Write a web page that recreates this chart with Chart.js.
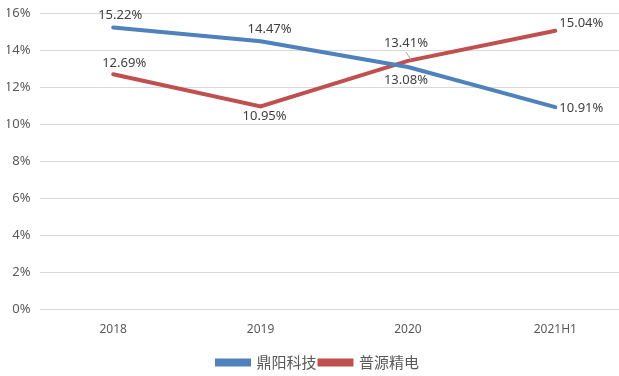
<!DOCTYPE html>
<html>
<head>
<meta charset="utf-8">
<script src="https://cdn.jsdelivr.net/npm/chart.js"></script>
<style>
  html, body { margin: 0; padding: 0; background: #fff; overflow: hidden; }
  #wrap { width: 630px; height: 376px; }
</style>
</head>
<body>
<div id="wrap"><canvas id="lineChart" width="630" height="376"></canvas></div>
<script>
// chart values
var years = ['2018', '2019', '2020', '2021H1'];
var dingyang = [15.22, 14.47, 13.08, 10.91];
var rigol = [12.69, 10.95, 13.41, 15.04];
var yTicks = [0, 2, 4, 6, 8, 10, 12, 14, 16];

// where each value label sits relative to its point (dx, dy)
var labelPlace = {
    0: [[7, -12], [9, -12], [-2, 13], [26, 1]],
    1: [[11, -11], [4, 9.5], [-2, -18], [26, -7]]
};

var valueLabels = {
    id: 'valueLabels',
    afterDatasetsDraw: function(chart) {
        var ctx = chart.ctx;
        ctx.save();
        ctx.font = '13px "Noto Sans", "Noto Sans CJK SC", sans-serif';
        ctx.fillStyle = '#404040';
        ctx.textAlign = 'center';
        ctx.textBaseline = 'middle';
        chart.data.datasets.forEach(function(ds, i) {
            var meta = chart.getDatasetMeta(i);
            meta.data.forEach(function(pt, j) {
                var off = labelPlace[i][j];
                var x = pt.x + off[0], y = pt.y + off[1];
                ctx.fillText(ds.data[j].toFixed(2) + '%', x, y);
                // small leader line for the label pushed away from its point
                if (i === 1 && j === 2) {
                    ctx.strokeStyle = '#a6a6a6';
                    ctx.lineWidth = 1;
                    ctx.beginPath();
                    ctx.moveTo(pt.x - 2, pt.y - 9);
                    ctx.lineTo(pt.x + 3, pt.y - 1);
                    ctx.stroke();
                }
            });
        });
        ctx.restore();
    }
};

document.addEventListener('DOMContentLoaded', function() {
    var ctx = document.getElementById('lineChart').getContext('2d');

    var data = {
        labels: years,
        datasets: [{
            label: '鼎阳科技',
            data: dingyang,
            borderColor: '#4F81BD',
            backgroundColor: '#4F81BD',
            borderWidth: 4,
            borderCapStyle: 'round',
            pointRadius: 0,
            tension: 0
        },
        {
            label: '普源精电',
            data: rigol,
            borderColor: '#C0504D',
            backgroundColor: '#C0504D',
            borderWidth: 4,
            borderCapStyle: 'round',
            pointRadius: 0,
            tension: 0
        }]
    };

    var options = {
        responsive: false,
        animation: false,
        layout: { padding: { top: 13, right: 1, left: 7, bottom: -4 } },
        plugins: {
            tooltip: { enabled: false },
            legend: {
                position: 'bottom',
                labels: {
                    boxWidth: 32,
                    boxHeight: 4,
                    padding: 3,
                    color: '#595959',
                    font: { size: 15, family: '"Noto Sans CJK SC", "Noto Sans", sans-serif' }
                }
            }
        },
        scales: {
            x: {
                offset: true,
                grid: { display: false, drawTicks: false },
                border: { display: false },
                ticks: {
                    color: '#595959',
                    padding: 13,
                    font: { size: 12, family: '"Noto Sans", sans-serif' }
                },
                afterFit: function(scale) { scale.height = 43; }
            },
            y: {
                min: 0,
                max: 16,
                afterBuildTicks: function(scale) {
                    scale.ticks = yTicks.map(function(v) { return { value: v }; });
                },
                grid: { color: '#d9d9d9', drawTicks: false },
                border: { display: false },
                ticks: {
                    color: '#595959',
                    padding: 9,
                    font: { size: 13, family: '"Noto Sans", sans-serif' },
                    callback: function(v) { return v + '%'; }
                },
                afterFit: function(scale) {
                    scale.width = 32.5;
                    scale.paddingTop = 0;
                    scale.paddingBottom = 0;
                }
            }
        }
    };

    new Chart(ctx, {
        type: 'line',
        data: data,
        options: options,
        plugins: [valueLabels]
    });
});
</script>
</body>
</html>
